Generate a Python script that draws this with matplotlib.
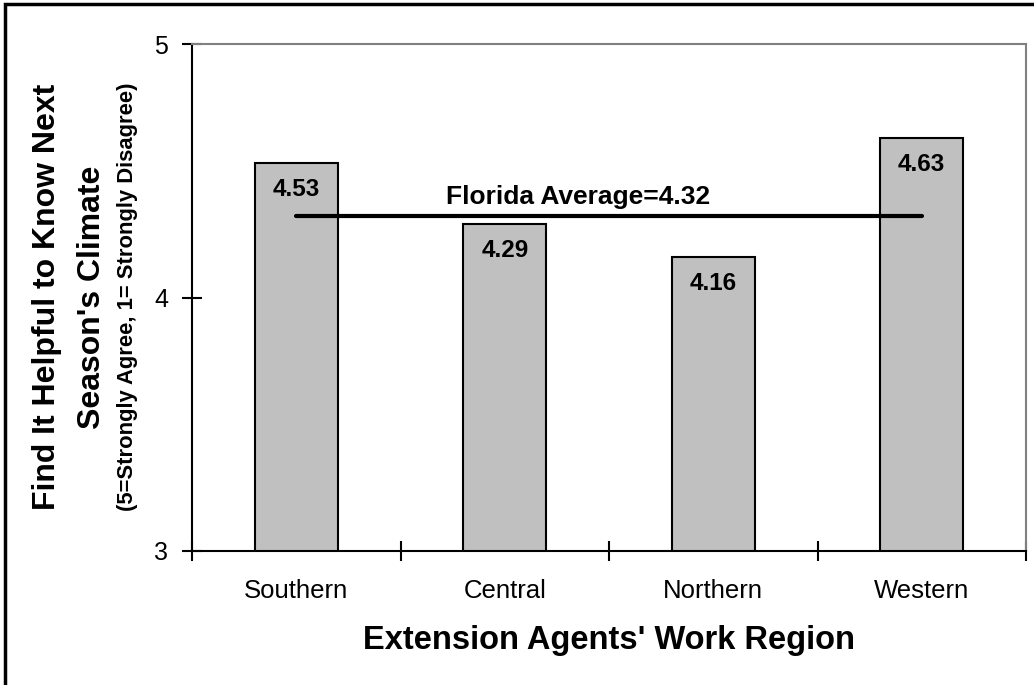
import matplotlib.pyplot as plt
from matplotlib.patches import Rectangle

plt.rcParams['font.family'] = ['Liberation Sans', 'DejaVu Sans']

regions = ["Southern", "Central", "Northern", "Western"]
scores = [4.53, 4.29, 4.16, 4.63]
florida_avg = 4.32
y_ticks = [3, 4, 5]


def main():
    fig = plt.figure(figsize=(10.34, 6.85), dpi=100)
    ax = fig.add_axes([192 / 1034, 1 - 551 / 685, (1026 - 192) / 1034, (551 - 44) / 685])

    x = list(range(len(regions)))
    ax.bar(x, scores, width=0.4, color="#c0c0c0", edgecolor="black", linewidth=1.5, zorder=2)

    # value labels inside bar tops
    for xi, v in zip(x, scores):
        ax.text(xi, v - 0.105, f"{v:.2f}", ha="center", va="center", fontsize=17.5, fontweight="bold", zorder=4)

    # state average line
    ax.plot([x[0], x[-1]], [florida_avg, florida_avg], color="black", linewidth=3,
            solid_capstyle="round", zorder=3)
    ax.text(1.35, florida_avg + 0.078, f"Florida Average={florida_avg}", ha="center", va="center",
            fontsize=19, fontweight="bold")

    ax.set_xlim(-0.5, len(regions) - 0.5)
    ax.set_ylim(3, 5)
    ax.set_yticks(y_ticks)
    ax.set_yticklabels([str(t) for t in y_ticks], fontsize=18)

    ax.set_xticks(x)
    ax.set_xticklabels(regions, fontsize=18.5)
    ax.set_xticks([i - 0.5 for i in range(len(regions) + 1)], minor=True)
    ax.tick_params(axis="x", which="major", length=0, pad=20)
    ax.tick_params(axis="x", which="minor", length=14, width=1.5, direction="inout")
    ax.tick_params(axis="y", length=14, width=1.5, direction="inout", pad=10)

    for side in ["left", "bottom"]:
        ax.spines[side].set_linewidth(1.5)
    for side in ["top", "right"]:
        ax.spines[side].set_color("#808080")
        ax.spines[side].set_linewidth(1.5)

    ax.set_xlabel("Extension Agents' Work Region", fontsize=23.5, fontweight="bold", labelpad=16)

    # y axis title, two bold lines plus the scale note
    ycen = 1 - 297 / 685
    fig.text(47 / 1034, ycen, "Find It Helpful to Know Next", rotation=90,
             ha="center", va="center", fontsize=23, fontweight="bold")
    fig.text(92 / 1034, ycen, "Season's Climate", rotation=90,
             ha="center", va="center", fontsize=23, fontweight="bold")
    fig.text(128 / 1034, ycen, "(5=Strongly Agree, 1= Strongly Disagree)", rotation=90,
             ha="center", va="center", fontsize=15.8, fontweight="bold")

    # outer chart border
    fig.patches.append(Rectangle((5 / 1034, -0.1), 1.2, 1 - 4 / 685 + 0.1, transform=fig.transFigure,
                                 fill=False, edgecolor="black", linewidth=2.5))

    fig.savefig("out.png", dpi=100)


if __name__ == "__main__":
    main()
